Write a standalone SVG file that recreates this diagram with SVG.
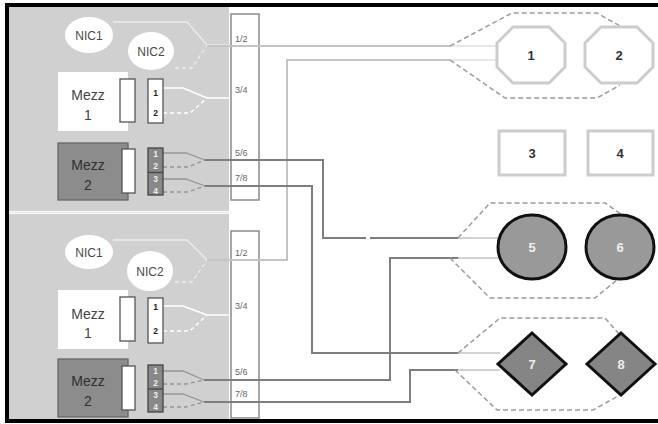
<svg xmlns="http://www.w3.org/2000/svg" width="658" height="424" viewBox="0 0 658 424">
<style>
.bg{fill:#d0d0d0}
.nic{fill:#fff}
.t{font-family:"Liberation Sans",Arial,sans-serif;text-anchor:middle}
.nict{font-size:12px;fill:#4a4a4a}
.mz{font-size:14px;fill:#444}
.mz2{font-size:14px;fill:#2e2e2e}
.pn{font-size:8.5px;font-weight:bold;fill:#222}
.pw{font-size:8.5px;font-weight:bold;fill:#eee}
.sl{font-size:9px;fill:#666;font-family:"Liberation Sans",Arial,sans-serif}
.in{fill:none;stroke:#ececec;stroke-width:1.3}
.inw{fill:none;stroke:#fff;stroke-width:1.5}
.ing{fill:none;stroke:#959595;stroke-width:1.3}
.dash{stroke-dasharray:4 3}
.lite{fill:none;stroke:#c4c4c4;stroke-width:2}
.lite1{fill:none;stroke:#cfcfcf;stroke-width:1}
.dark{fill:none;stroke:#7e7e7e;stroke-width:2}
.dark1{fill:none;stroke:#a4a4a4;stroke-width:1}
.grp{fill:none;stroke:#9c9c9c;stroke-width:1.5;stroke-dasharray:5 3}
.oct{fill:#fff;stroke:#cccccc;stroke-width:3}
.sq{fill:#fff;stroke:#cccccc;stroke-width:3}
.circ{fill:#999;stroke:#111;stroke-width:3}
.dia{fill:#858585;stroke:#111;stroke-width:3}
.dt{font-family:"Liberation Sans",Arial,sans-serif;font-size:13px;font-weight:bold;text-anchor:middle}
</style>

<!-- blade backgrounds -->
<rect class="bg" x="9" y="7" width="220" height="204"/>
<rect class="bg" x="9" y="214" width="220" height="206"/>
<line x1="9" y1="212.5" x2="229" y2="212.5" stroke="#e8e8e8" stroke-width="1.5"/>

<!-- blade-internal lines -->
<g id="blade-lines">
<polyline class="in" points="113,22 187,22 207,45 231,45"/>
<polyline class="in dash" points="175,68 192,68 207,45"/>
<polyline class="inw" points="163,88 183,88 207,98 231,98"/>
<polyline class="inw dash" points="163,113 190,113 207,98"/>
<polyline class="ing" points="163,153 186,153 205,160"/>
<polyline class="ing dash" points="163,167 188,167 205,160"/>
<polyline class="ing" points="163,179 186,179 205,186"/>
<polyline class="ing dash" points="163,192 188,192 205,186"/>

<polyline class="in" points="113,240 187,240 207,260 231,260"/>
<polyline class="in dash" points="175,282 192,282 207,260"/>
<polyline class="inw" points="163,306 183,306 207,315 231,315"/>
<polyline class="inw dash" points="163,331 190,331 207,315"/>
<polyline class="ing" points="163,371 183,371 204,380"/>
<polyline class="ing dash" points="163,384 186,384 204,380"/>
<polyline class="ing" points="163,394 183,394 204,402"/>
<polyline class="ing dash" points="163,407 186,407 204,402"/>
</g>

<!-- top blade nodes -->
<g id="nic1-a"><ellipse class="nic" cx="89" cy="35" rx="24" ry="18"/><text class="t nict" x="89" y="39.5">NIC1</text></g>
<g id="nic2-a"><ellipse class="nic" cx="151" cy="51" rx="23" ry="19"/><text class="t nict" x="151" y="55.5">NIC2</text></g>
<g id="mezz1-a">
<rect x="58" y="72" width="70" height="59" fill="#fff"/>
<rect x="120" y="79" width="15" height="43" fill="#fff" stroke="#555" stroke-width="1.3"/>
<text class="t mz" x="88" y="100">Mezz</text><text class="t mz" x="88" y="120">1</text>
</g>
<g id="mezz1-a-ports">
<rect x="148" y="79" width="15" height="44" fill="#fff" stroke="#555" stroke-width="1.3"/>
<text class="t pn" x="155.5" y="96">1</text><text class="t pn" x="155.5" y="116">2</text>
</g>
<g id="mezz2-a">
<rect x="58" y="143" width="70" height="57" fill="#8c8c8c" stroke="#666" stroke-width="1.3"/>
<rect x="122" y="149" width="13" height="44" fill="#fff" stroke="#555" stroke-width="1.3"/>
<text class="t mz2" x="88" y="170">Mezz</text><text class="t mz2" x="88" y="190">2</text>
</g>
<g id="mezz2-a-ports">
<rect x="148" y="148" width="15" height="47" fill="#888" stroke="#444" stroke-width="1.3"/>
<line x1="148" y1="172.5" x2="163" y2="172.5" stroke="#444" stroke-width="1.3"/>
<text class="t pw" x="155.5" y="157">1</text><text class="t pw" x="155.5" y="169">2</text>
<text class="t pw" x="155.5" y="182">3</text><text class="t pw" x="155.5" y="194">4</text>
</g>
<g id="strip-a">
<rect x="231" y="14" width="28" height="186" fill="#fff" stroke="#8a8a8a" stroke-width="1.5"/>
<text class="sl" x="235" y="42">1/2</text><text class="sl" x="235" y="93">3/4</text>
<text class="sl" x="235" y="156">5/6</text><text class="sl" x="235" y="181">7/8</text>
</g>

<!-- bottom blade nodes -->
<g id="nic1-b"><ellipse class="nic" cx="89" cy="252" rx="24" ry="17"/><text class="t nict" x="89" y="256.5">NIC1</text></g>
<g id="nic2-b"><ellipse class="nic" cx="150" cy="271" rx="23" ry="20"/><text class="t nict" x="150" y="275.5">NIC2</text></g>
<g id="mezz1-b">
<rect x="58" y="290" width="70" height="59" fill="#fff"/>
<rect x="120" y="297" width="15" height="44" fill="#fff" stroke="#555" stroke-width="1.3"/>
<text class="t mz" x="88" y="319">Mezz</text><text class="t mz" x="88" y="338">1</text>
</g>
<g id="mezz1-b-ports">
<rect x="148" y="298" width="15" height="45" fill="#fff" stroke="#555" stroke-width="1.3"/>
<text class="t pn" x="155.5" y="310">1</text><text class="t pn" x="155.5" y="334">2</text>
</g>
<g id="mezz2-b">
<rect x="58" y="359" width="70" height="58" fill="#8c8c8c" stroke="#666" stroke-width="1.3"/>
<rect x="122" y="366" width="13" height="44" fill="#fff" stroke="#555" stroke-width="1.3"/>
<text class="t mz2" x="88" y="386">Mezz</text><text class="t mz2" x="88" y="406">2</text>
</g>
<g id="mezz2-b-ports">
<rect x="148" y="365" width="15" height="47" fill="#888" stroke="#444" stroke-width="1.3"/>
<line x1="148" y1="389" x2="163" y2="389" stroke="#444" stroke-width="1.3"/>
<text class="t pw" x="155.5" y="374">1</text><text class="t pw" x="155.5" y="386">2</text>
<text class="t pw" x="155.5" y="398">3</text><text class="t pw" x="155.5" y="410">4</text>
</g>
<g id="strip-b">
<rect x="231" y="231" width="28" height="187" fill="#fff" stroke="#8a8a8a" stroke-width="1.5"/>
<text class="sl" x="235" y="256">1/2</text><text class="sl" x="235" y="309">3/4</text>
<text class="sl" x="235" y="375">5/6</text><text class="sl" x="235" y="397">7/8</text>
</g>

<!-- connectors -->
<g id="connectors">
<polyline class="lite" points="207,46 450,46"/>
<polyline class="lite1" points="450,46 497,46"/>
<polyline class="lite" points="207,260 287,260 287,60 450,60"/>
<polyline class="lite1" points="450,60 497,60"/>
<polyline class="dark" points="205,160 323,160 323,238 366,238"/>
<polyline class="dark" points="370,238 458,238"/>
<polyline class="dark1" points="458,238 498,238"/>
<polyline class="dark" points="204,380 390,380 390,258 458,258"/>
<polyline class="dark1" points="458,258 498,258"/>
<polyline class="dark" points="205,186 312,186 312,353 458,353"/>
<polyline class="dark1" points="458,353 500,353"/>
<polyline class="dark" points="204,402 410,402 410,370 458,370"/>
<polyline class="dark1" points="458,370 500,370"/>
</g>

<!-- dashed groupings -->
<g id="groups">
<polyline class="grp" points="450,46 512,13 597,13 620,26"/>
<polyline class="grp" points="450,60 505,98 597,98 620,85"/>
<polyline class="grp" points="458,238 490,203 605,203 622,215"/>
<polyline class="grp" points="450,258 490,298 595,298 617,280"/>
<polyline class="grp" points="458,353 500,318 605,318 619,334"/>
<polyline class="grp" points="455,370 497,410 593,410 620,395"/>
</g>

<!-- device nodes -->
<g id="dev1"><polygon class="oct" points="513,27 549,27 565,43 565,67 549,83 513,83 497,67 497,43"/><text class="dt" x="531" y="60" fill="#333">1</text></g>
<g id="dev2"><polygon class="oct" points="601,27 637,27 653,43 653,67 637,83 601,83 585,67 585,43"/><text class="dt" x="619" y="60" fill="#333">2</text></g>
<g id="dev3"><rect class="sq" x="499" y="131" width="66" height="44"/><text class="dt" x="532" y="158" fill="#333">3</text></g>
<g id="dev4"><rect class="sq" x="588" y="131" width="65" height="44"/><text class="dt" x="620" y="158" fill="#333">4</text></g>
<g id="dev5"><ellipse class="circ" cx="532" cy="247" rx="34" ry="32"/><text class="dt" x="532" y="252" fill="#eee">5</text></g>
<g id="dev6"><ellipse class="circ" cx="620" cy="247" rx="34" ry="32"/><text class="dt" x="620" y="252" fill="#eee">6</text></g>
<g id="dev7"><polygon class="dia" points="532,333 566,364 532,395 498,364"/><text class="dt" x="532" y="369" fill="#eee">7</text></g>
<g id="dev8"><polygon class="dia" points="621,333 655,364 621,395 587,364"/><text class="dt" x="621" y="369" fill="#eee">8</text></g>

<!-- outer frame -->
<rect x="7" y="5" width="660" height="416" fill="none" stroke="#000" stroke-width="4"/>
</svg>
